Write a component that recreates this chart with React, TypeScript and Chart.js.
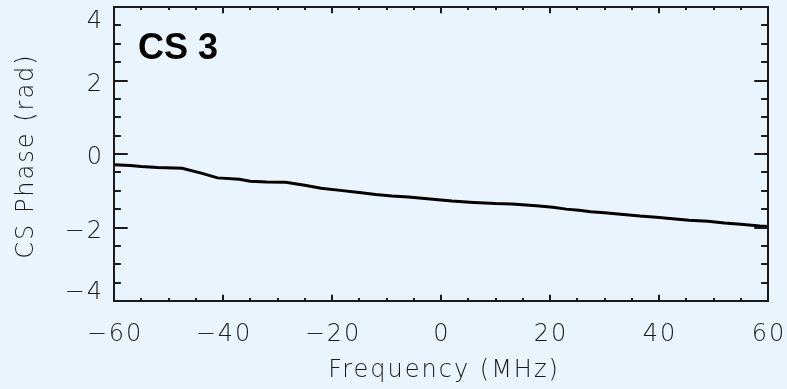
import React, { useEffect, useRef } from "react";
import { Chart, registerables } from "chart.js";

Chart.register(...registerables);

const FREQ = [-60, -57, -55, -52, -47.5, -44, -41, -37, -35, -32, -28.5, -25, -22, -18.5, -15, -12, -9, -6, -3, 0, 2, 6, 10, 13, 17.5, 20.5, 23, 25.3, 27.5, 30, 33, 36.5, 39.5, 42.5, 45.5, 49, 52, 55, 58.5, 60];
const PHASE = [-0.29, -0.31, -0.34, -0.37, -0.39, -0.52, -0.65, -0.69, -0.74, -0.76, -0.77, -0.85, -0.93, -0.99, -1.05, -1.1, -1.14, -1.17, -1.21, -1.25, -1.28, -1.32, -1.35, -1.36, -1.41, -1.45, -1.5, -1.53, -1.57, -1.6, -1.64, -1.69, -1.72, -1.76, -1.8, -1.83, -1.88, -1.91, -1.96, -1.97];

const X_MAJOR = [-60, -40, -20, 0, 20, 40, 60];
const X_MINOR_STEP = 5;
const Y_MAJOR = [-4, -2, 0, 2, 4];
const Y_MINOR_STEP = 0.5;
const X_TITLE = "Frequency (MHz)";
const Y_TITLE = "CS Phase (rad)";
const PANEL_LABEL = "CS 3";

const BG = "#EAF4FD";
const INK = "#1a1a1a";
const FONT = "200 24px 'DejaVu Sans'";

const fmt = (v: number) => (v < 0 ? "\u2212" + Math.abs(v) : String(v));

const idlAxes = {
  id: "idlAxes",
  afterDraw(chart: any) {
    const { ctx, chartArea: a, scales } = chart;
    const xs = scales.x;
    const ys = scales.y;
    ctx.save();
    ctx.strokeStyle = INK;
    ctx.lineWidth = 2;
    ctx.strokeRect(a.left, a.top, a.right - a.left, a.bottom - a.top);
    const w = a.right - a.left;
    const h = a.bottom - a.top;
    const xMaj = h * 0.021;
    const yMaj = w * 0.021;
    ctx.beginPath();
    for (let v = xs.min; v <= xs.max + 1e-9; v += X_MINOR_STEP) {
      const px = Math.round(xs.getPixelForValue(v));
      const major = X_MAJOR.includes(v);
      const len = major ? xMaj : xMaj / 2;
      ctx.moveTo(px, a.bottom);
      ctx.lineTo(px, a.bottom - len);
      ctx.moveTo(px, a.top);
      ctx.lineTo(px, a.top + len);
    }
    for (let v = ys.min; v <= ys.max + 1e-9; v += Y_MINOR_STEP) {
      const py = Math.round(ys.getPixelForValue(v));
      const major = Y_MAJOR.includes(v);
      const len = major ? yMaj : yMaj / 2;
      ctx.moveTo(a.left, py);
      ctx.lineTo(a.left + len, py);
      ctx.moveTo(a.right, py);
      ctx.lineTo(a.right - len, py);
    }
    ctx.stroke();

    ctx.fillStyle = INK;
    ctx.font = FONT;
    (ctx as any).letterSpacing = "2px";
    ctx.textBaseline = "middle";
    ctx.textAlign = "center";
    for (const v of X_MAJOR) {
      ctx.fillText(fmt(v), xs.getPixelForValue(v) + 1, a.bottom + 34);
    }
    ctx.textAlign = "right";
    for (const v of Y_MAJOR) {
      let py = ys.getPixelForValue(v) + 4;
      py = Math.max(a.top + 15, Math.min(a.bottom - 8, py));
      ctx.fillText(fmt(v), a.left - 10, py);
    }
    ctx.textAlign = "center";
    ctx.fillText(X_TITLE, (a.left + a.right) / 2 + 3, a.bottom + 70);
    ctx.save();
    ctx.translate(27, (a.top + a.bottom) / 2 + 2);
    ctx.rotate(-Math.PI / 2);
    ctx.fillText(Y_TITLE, 0, 0);
    ctx.restore();

    (ctx as any).letterSpacing = "0px";
    ctx.font = "bold 36px 'Liberation Sans'";
    ctx.textAlign = "left";
    ctx.textBaseline = "alphabetic";
    ctx.fillStyle = "#000";
    ctx.fillText(PANEL_LABEL, a.left + 24, a.top + 52);
    ctx.restore();
  },
};

export default function App() {
  const ref = useRef<HTMLCanvasElement>(null);
  useEffect(() => {
    if (!ref.current) return;
    const chart = new Chart(ref.current, {
      type: "scatter",
      data: {
        datasets: [
          {
            data: FREQ.map((f, i) => ({ x: f, y: PHASE[i] })),
            showLine: true,
            borderColor: "#000",
            borderWidth: 3,
            pointRadius: 0,
            tension: 0,
          },
        ],
      },
      options: {
        animation: false,
        responsive: true,
        maintainAspectRatio: false,
        layout: { padding: { top: 7, right: 19, left: 0, bottom: 0 } },
        plugins: { legend: { display: false }, tooltip: { enabled: false } },
        scales: {
          x: {
            type: "linear",
            min: -60,
            max: 60,
            grid: { display: false },
            border: { display: false },
            ticks: { display: false },
            afterFit: (s: any) => {
              s.height = 88;
            },
          },
          y: {
            type: "linear",
            min: -4,
            max: 4,
            grid: { display: false },
            border: { display: false },
            ticks: { display: false },
            afterFit: (s: any) => {
              s.width = 114;
            },
          },
        },
      },
      plugins: [idlAxes],
    });
    return () => chart.destroy();
  }, []);
  return (
    <div style={{ position: "fixed", left: 0, top: 0, width: 787, height: 389, background: BG }}>
      <canvas ref={ref} />
    </div>
  );
}
